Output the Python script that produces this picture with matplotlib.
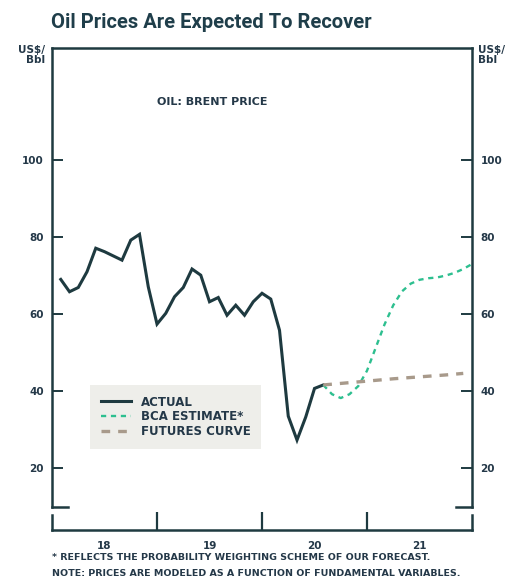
import matplotlib
import matplotlib.pyplot as plt
import numpy as np

matplotlib.use("Agg")

# Brent-pris, månedlige observationer (US$/tønde) fra feb. 2018
faktisk_måned = np.arange(1, 32)
faktisk_pris = [69.0, 65.8, 66.9, 71.0, 77.1, 76.2, 75.1, 74.0, 79.2, 80.7,
                67.1, 57.4, 60.2, 64.5, 66.9, 71.7, 70.1, 63.2, 64.3, 59.7,
                62.3, 59.7, 63.2, 65.4, 63.9, 55.8, 33.5, 27.3, 33.3, 40.7,
                41.6]

# BCA-estimat fra sidste faktiske måned og frem
estimat_måned = np.arange(31, 49)
estimat_pris = [41.6, 39.2, 38.2, 39.2, 41.3, 45.3, 51.3, 57.3, 62.3, 65.9,
                67.9, 68.9, 69.3, 69.5, 70.0, 70.7, 71.7, 73.0]

# Futureskurve
futures_måned = [31, 33, 36, 39, 42, 45, 47]
futures_pris = [41.6, 42.0, 42.6, 43.2, 43.7, 44.2, 44.6]

år_etiketter = ["18", "19", "20", "21"]
y_ticks = [20, 40, 60, 80, 100]

MØRK = "#1e3a40"
TEKST = "#243848"
GRØN = "#2dbf8f"
GRÅBRUN = "#a89a8b"

plt.rcParams["font.family"] = ["DejaVu Sans"]
plt.rcParams["font.weight"] = "bold"


def til_år(måneder):
    return 2018 + np.asarray(måneder, dtype=float) / 12


fig = plt.figure(figsize=(5.14, 5.84), dpi=100)
ax = fig.add_axes([0.1012, 0.1324, 0.8171, 0.7849])

ax.plot(til_år(faktisk_måned), faktisk_pris, color=MØRK, linewidth=2.2,
        label="ACTUAL", solid_joinstyle="miter")
ax.plot(til_år(estimat_måned), estimat_pris, color=GRØN, linewidth=1.7,
        dashes=(2.2, 2.0), label="BCA ESTIMATE*")
ax.plot(til_år(futures_måned), futures_pris, color=GRÅBRUN, linewidth=2.4,
        dashes=(2.6, 2.4), label="FUTURES CURVE")

ax.set_xlim(2018, 2022)
ax.set_ylim(10, 129)
ax.set_xticks([])
ax.set_yticks(y_ticks)
ax.tick_params(axis="y", direction="in", length=8, width=1.4, color=MØRK,
               labelsize=7.5, labelcolor=TEKST, left=True, right=True,
               labelleft=True, labelright=True, pad=6)
for side in ["top", "left", "right"]:
    ax.spines[side].set_color(MØRK)
    ax.spines[side].set_linewidth(1.8)
ax.spines["bottom"].set_visible(False)

# Kun hjørnerne af den nederste kant
ax.plot([0, 0.038], [0, 0], transform=ax.transAxes, color=MØRK,
        linewidth=1.8, clip_on=False, solid_capstyle="projecting")
ax.plot([0.962, 1], [0, 0], transform=ax.transAxes, color=MØRK,
        linewidth=1.8, clip_on=False, solid_capstyle="projecting")

ax.text(0.25, 0.883, "OIL: BRENT PRICE", transform=ax.transAxes,
        fontsize=8, color=TEKST, ha="left", va="center")

leg = ax.legend(loc="upper left", bbox_to_anchor=(0.0905, 0.2656),
                borderaxespad=0, frameon=True, fancybox=False,
                facecolor="#eeeeea", edgecolor="none", framealpha=1,
                fontsize=8.5, handlelength=2.6, handletextpad=0.8,
                labelspacing=0.15, borderpad=0.9)
for t in leg.get_texts():
    t.set_color(TEKST)

fig.text(45 / 514, 1 - 45 / 584, "US$/\nBbl", ha="right", va="top",
         fontsize=7.5, color=TEKST, linespacing=0.95)
fig.text(478 / 514, 1 - 45 / 584, "US$/\nBbl", ha="left", va="top",
         fontsize=7.5, color=TEKST, linespacing=0.95)

fig.text(51 / 514, 1 - 22 / 584, "Oil Prices Are Expected To Recover",
         ha="left", va="center", fontsize=14.5, color="#1f3e4a",
         family=["Roboto", "DejaVu Sans"], weight="bold")

# Tidsakse i en separat strimmel under grafen
ax_x = fig.add_axes([0.1012, 0.0925, 0.8171, 0.0257])
ax_x.set_xlim(2018, 2022)
ax_x.set_ylim(0, 1)
ax_x.set_yticks([])
ax_x.set_xticks([2019, 2020, 2021])
ax_x.set_xticks([2018.5, 2019.5, 2020.5, 2021.5], minor=True)
ax_x.set_xticklabels([])
ax_x.set_xticklabels(år_etiketter, minor=True)
ax_x.tick_params(axis="x", which="major", direction="in", length=13,
                 width=1.6, color=MØRK)
ax_x.tick_params(axis="x", which="minor", length=0, labelsize=7.5,
                 labelcolor=TEKST, pad=8)
ax_x.spines["top"].set_visible(False)
for side in ["bottom", "left", "right"]:
    ax_x.spines[side].set_color(MØRK)
    ax_x.spines[side].set_linewidth(1.8)
ax_x.patch.set_alpha(0)

fig.text(52 / 514, 1 - 557 / 584,
         "* REFLECTS THE PROBABILITY WEIGHTING SCHEME OF OUR FORECAST.",
         ha="left", va="center", fontsize=6.8, color=TEKST)
fig.text(52 / 514, 1 - 573 / 584,
         "NOTE: PRICES ARE MODELED AS A FUNCTION OF FUNDAMENTAL VARIABLES.",
         ha="left", va="center", fontsize=6.8, color=TEKST)

fig.savefig("out.png", dpi=100)
plt.close(fig)
